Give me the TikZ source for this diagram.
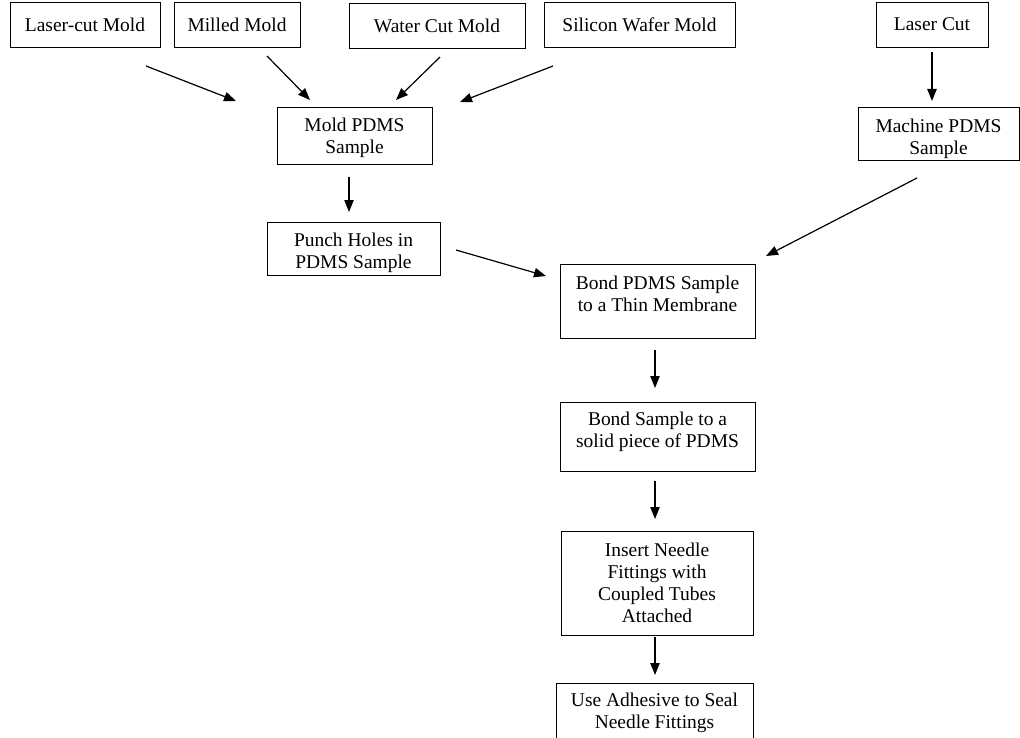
\documentclass[tikz,border=0pt]{standalone}
\usepackage{fontspec}
\setmainfont{Liberation Serif}
\usetikzlibrary{arrows.meta}

\begin{document}
\begin{tikzpicture}[x=0.75pt,y=-0.75pt,>={Triangle[length=9pt,width=7pt]},
  box/.style={draw,line width=0.65pt,rectangle,align=center,inner sep=2pt,
    font=\fontsize{14.6pt}{16.6pt}\selectfont},
  arr/.style={->,line width=0.9pt}]
        \useasboundingbox (0,0) rectangle (1020,738);

        \node[box,minimum width=112.5pt,minimum height=33.75pt] (lcmold) at (85,24.5) {Laser-cut Mold};
        \node[box,minimum width=94.5pt,minimum height=33.75pt] (milled) at (237,24.5) {Milled Mold};
        \node[box,minimum width=132pt,minimum height=33.75pt] (water) at (437,25.5) {Water Cut Mold};
        \node[box,minimum width=143.25pt,minimum height=33.75pt] (wafer) at (639.5,24.5) {Silicon Wafer Mold};
        \node[box,minimum width=84pt,minimum height=33.75pt] (lasercut) at (932,24.5) {Laser Cut};

        \node[box,minimum width=116.25pt,minimum height=42.75pt,text height=27.5pt,text depth=0pt] (moldpdms) at (354.5,135.5) {Mold PDMS\\Sample};
        \node[box,minimum width=120.75pt,minimum height=39.75pt,text height=31pt,text depth=0pt] (machine) at (938.5,133.5) {Machine PDMS\\Sample};
        \node[box,minimum width=129.75pt,minimum height=39.75pt,text height=29.5pt,text depth=0pt] (punch) at (353.5,248.5) {Punch Holes in\\PDMS Sample};

        \node[box,minimum width=146.25pt,minimum height=55.5pt,text depth=10.5pt] (bondmem) at (657.5,301) {Bond PDMS Sample\\to a Thin Membrane};
        \node[box,minimum width=146.25pt,minimum height=51.75pt,text depth=9.5pt] (bondsolid) at (657.5,436.5) {Bond Sample to a\\solid piece of PDMS};
        \node[box,minimum width=144pt,minimum height=78pt] (insert) at (657,583) {Insert Needle\\Fittings with\\Coupled Tubes\\Attached};
        \node[box,minimum width=147.75pt,minimum height=44.25pt] (adhesive) at (654.5,712.5) {Use Adhesive to Seal\\Needle Fittings};

        \coordinate (lcmold-s) at (146,66);    \coordinate (lcmold-e) at (236,101);
        \coordinate (milled-s) at (267,56);    \coordinate (milled-e) at (310,100);
        \coordinate (water-s) at (440,57);     \coordinate (water-e) at (396,100);
        \coordinate (wafer-s) at (553,66);     \coordinate (wafer-e) at (460,102);
        \coordinate (lasercut-s) at (932,52);  \coordinate (lasercut-e) at (932,101);
        \coordinate (moldpdms-s) at (349,177); \coordinate (moldpdms-e) at (349,212);
        \coordinate (punch-s) at (456,250);    \coordinate (punch-e) at (546,276);
        \coordinate (machine-s) at (917,178);  \coordinate (machine-e) at (766,256);
        \coordinate (bondmem-s) at (655,350);  \coordinate (bondmem-e) at (655,388);
        \coordinate (bondsolid-s) at (655,481);\coordinate (bondsolid-e) at (655,519);
        \coordinate (insert-s) at (655,637);   \coordinate (insert-e) at (655,675);

        \draw[arr] (lcmold-s) to (lcmold-e);
        \draw[arr] (milled-s) to (milled-e);
        \draw[arr] (water-s) to (water-e);
        \draw[arr] (wafer-s) to (wafer-e);
        \draw[arr] (lasercut-s) to (lasercut-e);
        \draw[arr] (moldpdms-s) to (moldpdms-e);
        \draw[arr] (punch-s) to (punch-e);
        \draw[arr] (machine-s) to (machine-e);
        \draw[arr] (bondmem-s) to (bondmem-e);
        \draw[arr] (bondsolid-s) to (bondsolid-e);
        \draw[arr] (insert-s) to (insert-e);
      \end{tikzpicture}
\end{document}
